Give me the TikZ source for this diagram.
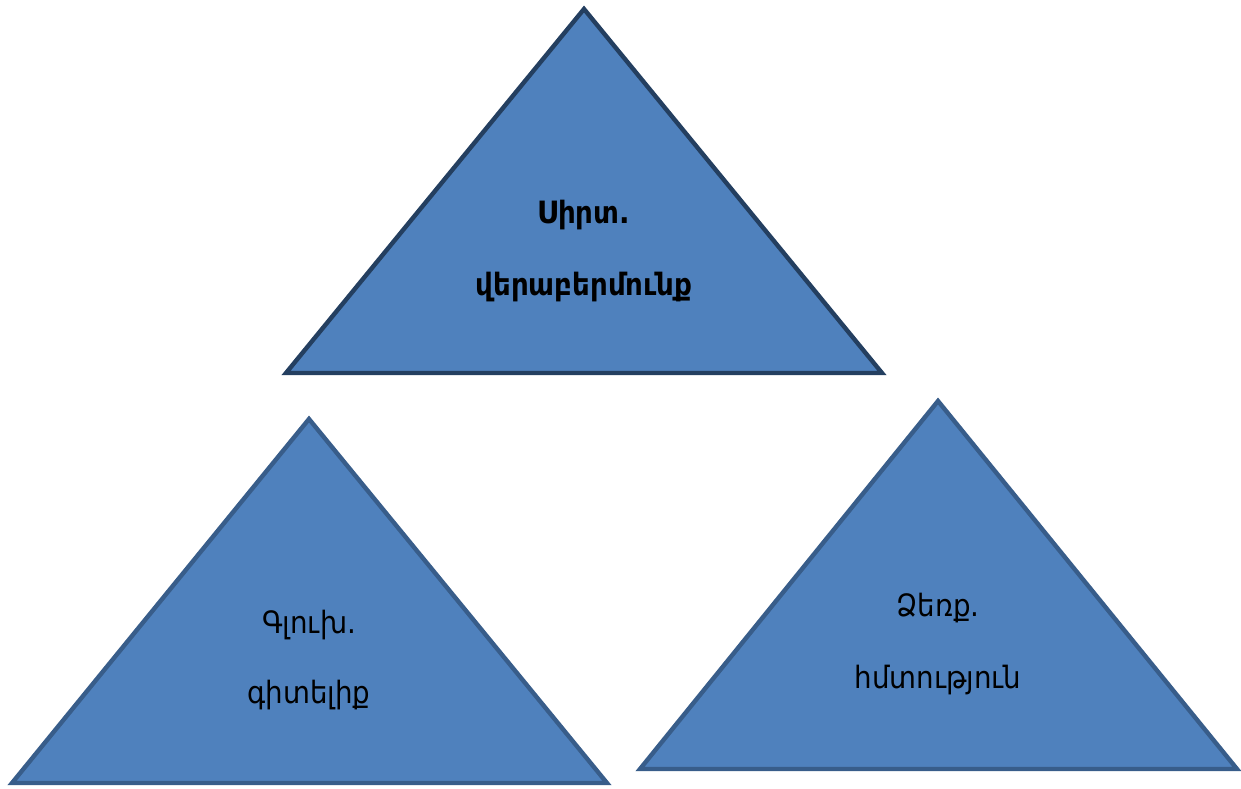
\documentclass[tikz,border=0pt]{standalone}
\usepackage{fontspec}
\newfontfamily\armfont[FakeStretch=0.9]{DejaVu Sans}
\usetikzlibrary{positioning}
\definecolor{trifill}{HTML}{4F81BD}
\definecolor{topedge}{HTML}{243F60}
\definecolor{lowedge}{HTML}{385D8A}
\tikzset{tri/.style={fill=trifill, line width=2.5pt, line join=miter}}
\tikzstyle{armtext}=[font=\armfont\fontsize{17.5}{20}\selectfont, anchor=base, inner sep=0pt]

\begin{document}
\begin{tikzpicture}[x=0.02cm, y=-0.02cm]

  \useasboundingbox (0,0) rectangle (1241,788);

  % top triangle
  \coordinate (ta) at (584,9);
  \coordinate (tl) at (286,373);
  \coordinate (tr) at (882,373);
  \draw[tri, draw=topedge] (ta) -- (tl) -- (tr) -- cycle;
  \node[armtext, font=\armfont\bfseries\fontsize{17.5}{20}\selectfont] (heart) at (584,223) {Սիրտ.};
  \node[armtext, font=\armfont\bfseries\fontsize{17.5}{20}\selectfont] (attitude) [below=41pt of heart.base, anchor=base] {վերաբերմունք};

  % left triangle
  \coordinate (la) at (309,419);
  \coordinate (ll) at (12,783);
  \coordinate (lr) at (607,783);
  \draw[tri, draw=lowedge] (la) -- (ll) -- (lr) -- cycle;
  \node[armtext] (head) at (309,633) {Գլուխ.};
  \node[armtext] (knowledge) [below=40pt of head.base, anchor=base] {գիտելիք};

  % right triangle
  \coordinate (ra) at (938,401);
  \coordinate (rl) at (640,769);
  \coordinate (rr) at (1237,769);
  \draw[tri, draw=lowedge] (ra) -- (rl) -- (rr) -- cycle;
  \node[armtext] (hand) at (938,616) {Ձեռք.};
  \node[armtext] (skill) [below=41pt of hand.base, anchor=base] {հմտություն};

\end{tikzpicture}
\end{document}
